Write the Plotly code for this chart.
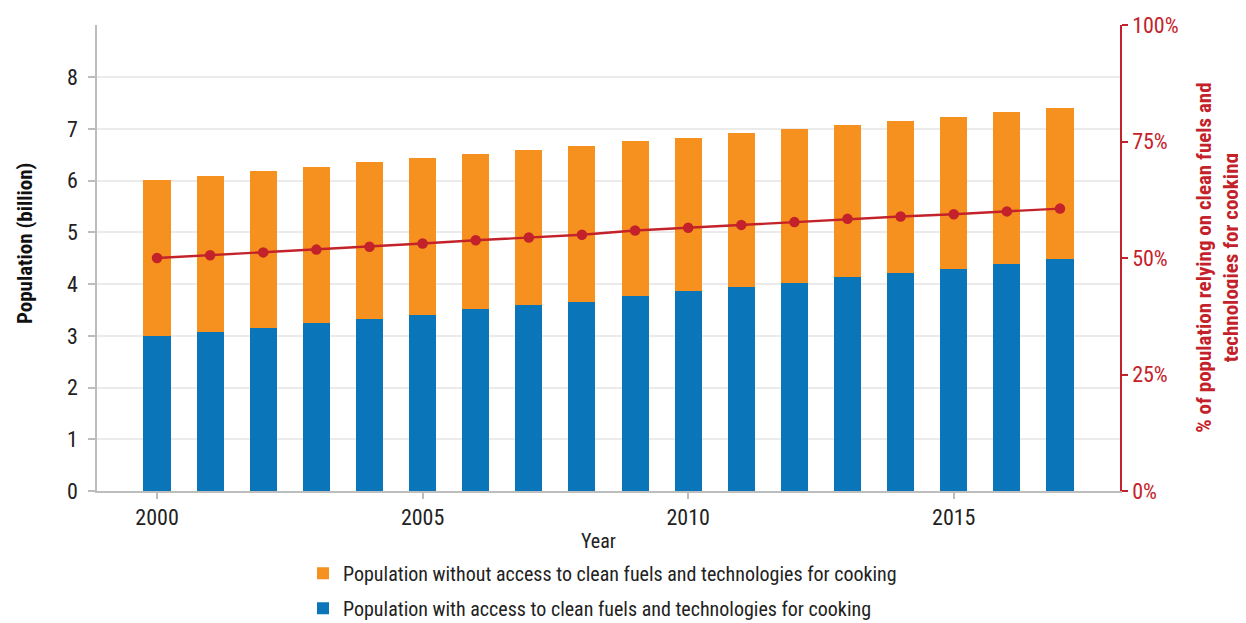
import plotly.graph_objects as go

years = list(range(2000, 2018))
with_access = [3.00, 3.08, 3.16, 3.24, 3.33, 3.41, 3.51, 3.59, 3.66, 3.78,
               3.86, 3.95, 4.03, 4.14, 4.22, 4.30, 4.39, 4.49]
without_access = [3.02, 3.02, 3.02, 3.02, 3.03, 3.02, 3.00, 3.00, 3.01, 2.98,
                  2.96, 2.97, 2.96, 2.94, 2.94, 2.94, 2.93, 2.92]
pct_clean = [0.500, 0.506, 0.512, 0.518, 0.524, 0.531, 0.538, 0.544, 0.550, 0.559,
             0.565, 0.571, 0.577, 0.584, 0.589, 0.594, 0.600, 0.606]

left_ticks = [0, 1, 2, 3, 4, 5, 6, 7, 8]
right_ticks = [0, 0.25, 0.5, 0.75, 1.0]
x_ticks = [2000, 2005, 2010, 2015]

BLUE = "#0a75b8"
ORANGE = "#f6911f"
RED = "#c4222a"
FONT = "Roboto Condensed, Liberation Sans Narrow, DejaVu Sans Condensed, Arial Narrow, sans-serif"

fig = go.Figure()
fig.add_trace(go.Bar(
    x=years, y=with_access, name="Population with access to clean fuels and technologies for cooking",
    marker=dict(color=BLUE, line=dict(width=0)), width=0.51, legendgroup="b", legendrank=2,
))
fig.add_trace(go.Bar(
    x=years, y=without_access, name="Population without access to clean fuels and technologies for cooking",
    marker=dict(color=ORANGE, line=dict(width=0)), width=0.51, legendgroup="a", legendrank=1,
))
fig.add_trace(go.Scatter(
    x=years, y=pct_clean, yaxis="y2", mode="lines+markers",
    line=dict(color=RED, width=2.4), marker=dict(color=RED, size=10.5),
    showlegend=False,
))

fig.update_layout(
    width=1238, height=615,
    margin=dict(l=89, r=126, t=17, b=132, autoexpand=False),
    paper_bgcolor="white", plot_bgcolor="white",
    barmode="stack",
    font=dict(family=FONT, size=22, color="#222222"),
    showlegend=True,
    legend=dict(
        xref="container", yref="container",
        x=0.2383, xanchor="left", y=0.1125, yanchor="top",
        orientation="v", traceorder="grouped", tracegroupgap=6,
        font=dict(family=FONT, size=20, color="#222222"),
        bgcolor="rgba(0,0,0,0)",
    ),
    xaxis=dict(
        range=[1998.87, 2018.13], tickvals=x_ticks, automargin=False,
        showline=True, linecolor="#bdbdbd", linewidth=1.5,
        ticks="outside", ticklen=6, tickcolor="#bdbdbd", tickwidth=1.5,
        showgrid=False, zeroline=False,
        tickfont=dict(family=FONT, size=22, color="#222222"),
    ),
    yaxis=dict(
        range=[0, 9.01], tickvals=left_ticks, automargin=False,
        showline=True, linecolor="#bdbdbd", linewidth=1.5,
        ticks="outside", ticklen=7, tickcolor="#bdbdbd", tickwidth=1.5,
        ticklabelstandoff=6,
        showgrid=True, gridcolor="#ebebeb", gridwidth=1.5,
        zeroline=False,
        tickfont=dict(family=FONT, size=22, color="#222222"),
    ),
    yaxis2=dict(
        overlaying="y", side="right", range=[0, 1.0], tickvals=right_ticks,
        tickformat=".0%", automargin=False,
        showline=True, linecolor=RED, linewidth=1.5,
        ticks="outside", ticklen=6, tickcolor=RED, tickwidth=1.5,
        showgrid=False, zeroline=False,
        tickfont=dict(family=FONT, size=22, color=RED),
    ),
    annotations=[
        dict(text="Year", xref="paper", yref="paper", x=0.49, y=-0.107,
             xanchor="center", yanchor="middle", showarrow=False,
             font=dict(family=FONT, size=20, color="#222222")),
        dict(text="<b>Population (billion)</b>", xref="paper", yref="paper",
             x=-0.0704, y=0.532, xanchor="center", yanchor="middle",
             textangle=-90, showarrow=False,
             font=dict(family=FONT, size=21, color="#111111")),
        dict(text="<b>% of population relying on clean fuels and<br>technologies for cooking</b>",
             xref="paper", yref="paper", x=1.0945, y=0.5,
             xanchor="center", yanchor="middle", textangle=-90, showarrow=False,
             font=dict(family=FONT, size=21, color=RED)),
    ],
)

fig.write_html("out.html")
